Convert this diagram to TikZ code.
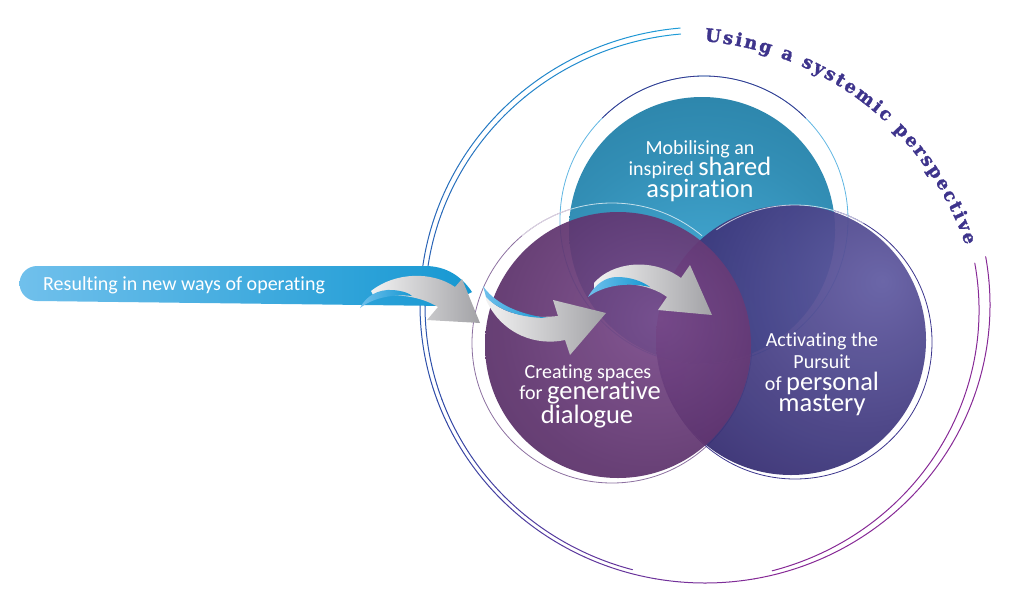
\documentclass[tikz,border=0pt]{standalone}
\usepackage{fontspec}
\setmainfont{Carlito}[Ligatures=NoCommon]
\newfontfamily\sysfont{DejaVu Serif Bold}[FakeBold=1.6]
\usetikzlibrary{decorations.text}

\definecolor{tealL}{RGB}{76,182,226}
\definecolor{tealD}{RGB}{26,104,138}
\definecolor{plumL}{RGB}{122,74,138}
\definecolor{plumD}{RGB}{72,33,86}
\definecolor{navyL}{RGB}{98,92,162}
\definecolor{navyD}{RGB}{40,32,100}
\definecolor{ringblue}{RGB}{30,155,215}
\definecolor{ringnavy}{RGB}{48,72,165}
\definecolor{ringpurple}{RGB}{135,42,150}
\definecolor{ringlight}{RGB}{96,182,226}
\definecolor{ringplum}{RGB}{140,112,160}
\definecolor{ringdeep}{RGB}{58,52,140}
\definecolor{bannerL}{RGB}{112,192,236}
\definecolor{bannerD}{RGB}{22,152,210}
\definecolor{arrowL}{RGB}{242,242,242}
\definecolor{arrowD}{RGB}{162,162,166}
\definecolor{syscol}{RGB}{62,52,140}

\pgfdeclareradialshading{tealshade}{\pgfpoint{0bp}{-22bp}}{color(0bp)=(tealL); color(30bp)=(tealL!50!tealD); color(70bp)=(tealD); color(100bp)=(tealD)}
\pgfdeclareradialshading{plumshade}{\pgfpoint{8bp}{5bp}}{color(0bp)=(plumL); color(48bp)=(plumD); color(100bp)=(plumD)}
\pgfdeclareradialshading{navyshade}{\pgfpoint{17bp}{11bp}}{color(0bp)=(navyL); color(48bp)=(navyD); color(100bp)=(navyD)}

\newcommand{\smallw}{\fontsize{20}{22}\selectfont}
\newcommand{\bigw}{\fontsize{26.5}{28}\selectfont}
\newcommand{\sysstyle}{\sysfont\fontsize{18}{18}\selectfont}

\tikzset{
  ring/.style={line width=1pt, line cap=round},
  halo/.style={line width=.8pt},
  circtext/.style={text=white, anchor=base, inner sep=0pt, font=\smallw},
  greyarrow/.style={left color=arrowL, right color=arrowD},
  twist/.style={left color=bannerL, right color=bannerD},
}

\begin{document}
\begin{tikzpicture}[x=1pt,y=-1pt]
\useasboundingbox (0,0) rectangle (1011,602);

\coordinate (outc) at (705,305);
\coordinate (innc) at (705,306);
\coordinate (rigc) at (700,310);
\coordinate (sysc) at (678,344);
\coordinate (aspc) at (702,230);
\coordinate (aspr) at (704,220);
\coordinate (dialc) at (618,345);
\coordinate (dialr) at (612,343);
\coordinate (mastc) at (791,340);
\coordinate (mastr) at (795,342);

% the orbit
\foreach \a in {95,100,...,365}{
  \pgfmathtruncatemacro\ta{min(100,max(0,(\a-95)/105*100))}
  \pgfmathtruncatemacro\tb{min(100,max(0,(\a-200)/80*100))}
  \colorlet{segA}{ringnavy!\ta!ringblue}
  \colorlet{segB}{ringpurple!\tb!segA}
  \draw[ring,segB] (outc) ++(\a:285pt and 278pt) arc[start angle=\a, delta angle=5, x radius=285pt, y radius=278pt];
}
\foreach \a in {95,100,...,253}{
  \pgfmathtruncatemacro\ta{min(100,max(0,(\a-95)/105*100))}
  \pgfmathtruncatemacro\tb{min(100,max(0,(\a-200)/80*100))}
  \colorlet{segA}{ringnavy!\ta!ringblue}
  \colorlet{segB}{ringpurple!\tb!segA}
  \draw[ring,segB] (innc) ++(\a:280pt and 273pt) arc[start angle=\a, delta angle=5, x radius=280pt, y radius=273pt];
}
\draw[ring,ringpurple] (rigc) ++(-75:279pt and 270pt) arc[start angle=-75, end angle=10, x radius=279pt, y radius=270pt];

% rings round the circles
\draw[halo,ringlight] (aspr) circle[radius=144];
\draw[halo,ringdeep] (aspr) ++(45:144pt) arc[start angle=45, end angle=135, radius=144pt];
\draw[halo,ringplum] (dialr) circle[radius=140];
\draw[halo,ringdeep] (mastr) circle[radius=137];

% the three circles
\shade[shading=tealshade] (aspc) circle[radius=133];
\shade[shading=navyshade, fill opacity=.94] (mastc) circle[radius=135];
\shade[shading=plumshade, fill opacity=.93] (dialc) circle[radius=133];

\draw[halo,white,opacity=.7] (dialr) ++(50:140pt) arc[start angle=50, end angle=130, radius=140pt];
\draw[halo,white,opacity=.7] (mastr) ++(60:137pt) arc[start angle=60, end angle=125, radius=137pt];

\node[circtext] (mob) at (700,154) {Mobilising an};
\node[circtext] (insp) at (700,175) {inspired {\bigw shared}};
\node[circtext] (aspir) at (700,197) {\bigw aspiration};

\node[circtext] (creat) at (588,378) {Creating spaces};
\node[circtext] (gener) at (590,399) {for {\bigw generative}};
\node[circtext] (dialo) at (587,423) {\bigw dialogue};

\node[circtext] (activ) at (822,346) {Activating the};
\node[circtext] (pursu) at (822,368) {Pursuit};
\node[circtext] (perso) at (822,390) {of {\bigw personal}};
\node[circtext] (maste) at (822,411) {\bigw mastery};

% banner and arrows
\shade[left color=bannerL, right color=bannerD] (37,301) arc[start angle=-90, end angle=-270, radius=17.5pt] -- (425,266) .. controls (447,266) and (462,277) .. (472,292) -- (445,306) -- cycle;
\node[circtext, anchor=base west] (result) at (43,290) {Resulting in new ways of operating};

\shade[greyarrow] (371,291) .. controls (395,272) and (432,271) .. (455,287) -- (462,279) -- (480,323) -- (427,320) -- (438,307) .. controls (420,296) and (395,293) .. (374,297) -- cycle;
\shade[twist] (360,308) .. controls (366,296) and (378,289) .. (393,290) .. controls (403,291) and (409,293) .. (412,296) .. controls (395,294) and (374,297) .. (360,308) -- cycle;

\shade[greyarrow] (486,296) .. controls (500,314) and (528,319) .. (558,316) -- (553,300) -- (606,313) -- (570,355) -- (565,340) .. controls (538,346) and (503,336) .. (486,300) -- cycle;
\shade[twist] (483,286) .. controls (493,301) and (515,314) .. (548,318) .. controls (522,318) and (499,311) .. (486,297) -- cycle;

\shade[greyarrow] (594,283) .. controls (612,262) and (652,257) .. (681,278) -- (690,265) -- (712,315) -- (658,310) -- (667,297) .. controls (650,284) and (615,279) .. (594,289) -- cycle;
\shade[twist] (588,297) .. controls (595,284) and (606,277) .. (617,277) .. controls (630,277) and (642,281) .. (650,287) .. controls (628,282) and (604,285) .. (588,297) -- cycle;

% title on the orbit
\path[decorate, decoration={text along path, text align={fit to path}, text color=syscol,
  text={|\sysstyle|Using a systemic perspective}}]
  (sysc) ++(85:304pt) arc[start angle=85, end angle=19, radius=304pt];
\end{tikzpicture}
\end{document}
